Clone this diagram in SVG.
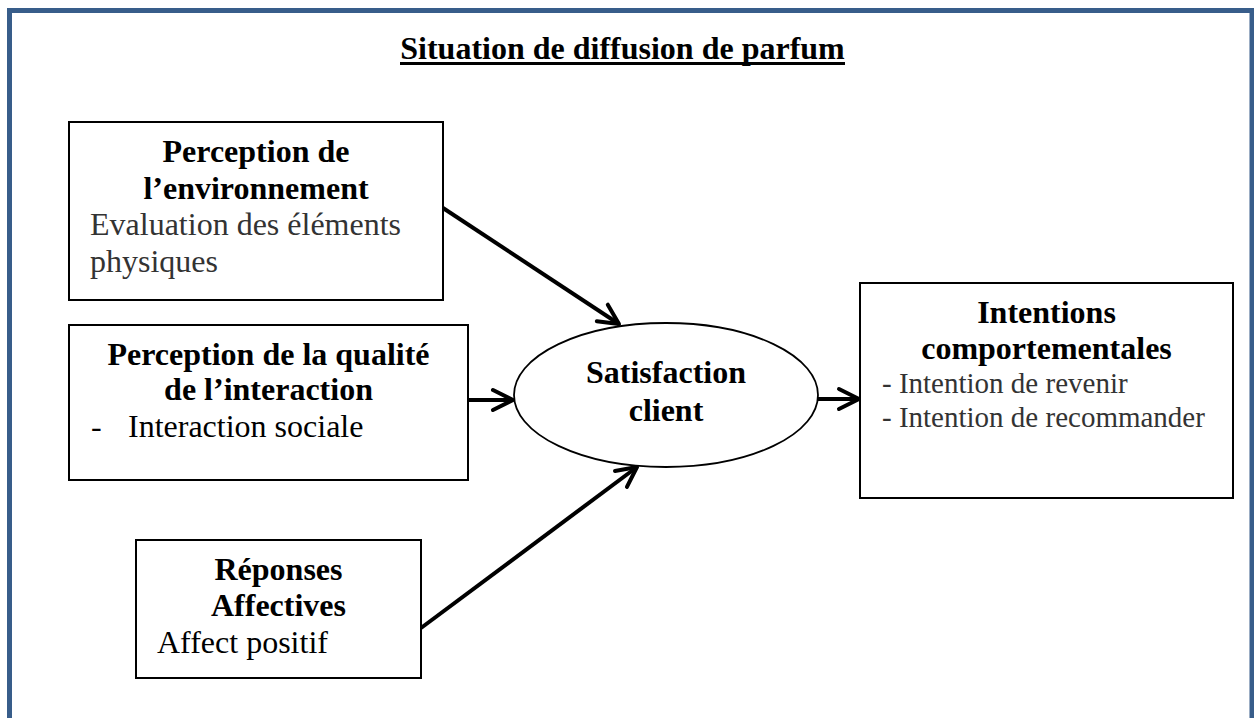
<svg xmlns="http://www.w3.org/2000/svg" width="1254" height="718" viewBox="0 0 1254 718">
  <style>
    text { font-family: "Liberation Serif", "Times New Roman", serif; font-size: 32px; fill: #000; }
    .b { font-weight: bold; }
    .c { text-anchor: middle; }
    .g { fill: #333; }
    .s { font-size: 29px; }
    .box { fill: #fff; stroke: #000; stroke-width: 2; }
    .arrow { fill: none; stroke: #000; stroke-width: 4; marker-end: url(#arr); }
  </style>
  <defs>
    <marker id="arr" markerUnits="userSpaceOnUse" markerWidth="30" markerHeight="30" viewBox="-25 -15 30 30" refX="0" refY="0" orient="auto">
      <path d="M -20 -10 L 0 0 L -20 10" fill="none" stroke="#000" stroke-width="4" stroke-linecap="round" stroke-linejoin="round"/>
    </marker>
  </defs>
  <rect x="0" y="0" width="1254" height="718" fill="#fff"/>
  <g id="frame">
    <path d="M 9.5 718 V 10.5 H 1252 V 718" fill="none" stroke="#385D8A" stroke-width="5"/>
  </g>
  <g id="title">
    <text class="b c" x="622.5" y="59">Situation de diffusion de parfum</text>
    <line x1="400" y1="63.5" x2="845" y2="63.5" stroke="#000" stroke-width="3"/>
  </g>
  <g id="connectors">
    <line class="arrow" x1="443" y1="208" x2="619" y2="324"/>
    <line class="arrow" x1="468" y1="400" x2="513" y2="400"/>
    <line class="arrow" x1="421" y1="628" x2="637" y2="467"/>
    <line class="arrow" x1="818" y1="399" x2="859" y2="399"/>
  </g>
  <g id="node-environnement">
    <rect class="box" x="69" y="122" width="374" height="178"/>
    <text class="b c" x="256" y="162">Perception de</text>
    <text class="b c" x="256" y="199">l’environnement</text>
    <text class="g" x="90" y="235">Evaluation des éléments</text>
    <text class="g" x="90" y="272">physiques</text>
  </g>
  <g id="node-interaction">
    <rect class="box" x="69" y="325" width="399" height="155"/>
    <text class="b c" x="268.5" y="365">Perception de la qualité</text>
    <text class="b c" x="268.5" y="400">de l’interaction</text>
    <text x="91" y="437">-</text>
    <text x="128" y="437">Interaction sociale</text>
  </g>
  <g id="node-affectives">
    <rect class="box" x="136" y="540" width="285" height="138"/>
    <text class="b c" x="278.5" y="580">Réponses</text>
    <text class="b c" x="278.5" y="616">Affectives</text>
    <text x="157" y="653">Affect positif</text>
  </g>
  <g id="node-satisfaction">
    <ellipse cx="666" cy="395" rx="152" ry="72" fill="#fff" stroke="#000" stroke-width="1.8"/>
    <text class="b c" x="666" y="383">Satisfaction</text>
    <text class="b c" x="666" y="421">client</text>
  </g>
  <g id="node-intentions">
    <rect class="box" x="860" y="283" width="373" height="215"/>
    <text class="b c" x="1046.5" y="323">Intentions</text>
    <text class="b c" x="1046.5" y="359">comportementales</text>
    <text class="g s" x="882" y="393">- Intention de revenir</text>
    <text class="g s" x="882" y="427">- Intention de recommander</text>
  </g>
</svg>
